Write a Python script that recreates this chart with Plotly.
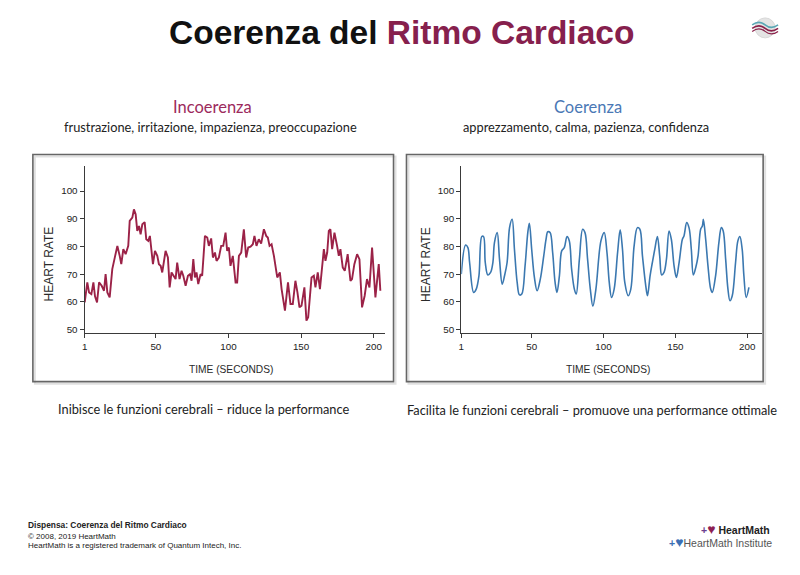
import plotly.graph_objects as go

# ---------------- data ----------------
incoh_time = [1, 2.8, 4.0, 5.6, 7.0, 8.1, 9.5, 10.9, 12.7, 14.3, 15.4, 16.6, 18.2, 20.0, 21.9,
              23.5, 25.1, 26.2, 27.6, 29.2, 31.0, 32.0, 33.8, 34.9, 36.1, 37.2, 38.4, 39.5, 40.7,
              42.3, 43.4, 44.8, 45.9, 48.0, 49.4, 51.0, 52.1, 53.3, 54.4, 56.7, 58.3, 59.5, 60.8,
              62.5, 63.6, 64.7, 66.3, 67.7, 68.9, 70.5, 72.1, 73.5, 74.6, 75.8, 76.9, 78.0, 79.2,
              80.8, 81.9, 83.8, 85.4, 86.5, 88.1, 89.3, 90.7, 91.8, 93.4, 95.0, 96.4, 98.0, 99.1,
              100.3, 101.4, 103.0, 104.9, 106.0, 107.2, 108.8, 110.6, 112.2, 113.6, 115.2, 116.8,
              117.9, 119.3, 120.9, 122.5, 124.4, 126.0, 127.1, 128.3, 129.7, 131.3, 133.6, 135.4,
              136.6, 138.9, 141.0, 142.7, 144.3, 146.1, 147.5, 148.9, 150.3, 152.3, 153.7, 154.9,
              157.2, 158.8, 159.9, 161.5, 163.0, 164.6, 165.7, 166.8, 168.0, 169.1, 170.2, 171.4,
              173.0, 174.8, 176.0, 177.1, 178.7, 180.1, 182.1, 184.0, 185.1, 186.7, 188.6, 190.2,
              192.0, 193.8, 195.4, 197.1, 198.9, 201.2, 203.5, 204.6]
incoh_hr = [59.8, 67.0, 63.4, 62.8, 67.0, 62.0, 59.8, 67.0, 65.8, 64.0, 70.0, 63.4, 61.6, 71.8, 76.4,
            80.2, 76.6, 73.6, 79.0, 77.2, 80.2, 89.2, 90.4, 93.4, 91.6, 85.6, 87.4, 84.4, 88.0,
            88.8, 82.6, 82.0, 83.8, 73.6, 78.4, 76.6, 73.6, 73.0, 70.6, 78.4, 76.0, 65.2, 70.6,
            68.8, 68.2, 74.2, 68.2, 71.2, 69.4, 65.8, 69.4, 70.0, 67.6, 75.4, 68.8, 70.6, 66.4,
            70.0, 69.4, 83.8, 83.2, 80.2, 82.9, 76.0, 77.8, 74.8, 76.0, 80.2, 80.2, 85.0, 78.4,
            79.6, 73.0, 76.6, 67.0, 67.0, 76.6, 77.8, 86.2, 76.0, 79.6, 79.9, 80.8,
            83.8, 80.2, 82.6, 81.0, 86.2, 83.8, 83.2, 80.2, 80.8, 76.6, 68.8, 70.6,
            64.6, 56.8, 67.0, 59.2, 59.2, 67.6, 63.4, 58.0, 58.6, 65.2, 53.2, 54.4,
            68.8, 69.4, 65.2, 70.6, 64.6, 72.4, 79.0, 74.8, 77.8, 85.6, 86.2, 79.0,
            85.0, 80.2, 76.6, 79.0, 72.4, 71.2, 77.2, 67.6, 68.2, 73.6, 77.2, 75.4,
            58.0, 62.2, 68.2, 65.2, 79.6, 61.6, 73.6, 64.0]

coh_time = [1, 4.0, 5.6, 6.8, 9.6, 11.4, 13.3, 15.3, 16.5, 17.7, 19.5, 21.4, 23.0, 24.1, 26.0,
            27.6, 29.5, 31.1, 32.9, 34.6, 36.4, 38.0, 39.9, 41.5, 43.1, 45.4, 47.3, 48.4, 50.0,
            51.9, 53.8, 56.0, 58.4, 60.0, 61.2, 62.8, 64.6, 66.3, 67.6, 69.3, 70.9, 72.7, 74.6,
            76.2, 77.8, 79.7, 81.0, 83.2, 85.5, 87.1, 88.9, 90.8, 92.6, 94.7, 98.2, 100.5, 102.4,
            104.0, 105.6, 107.4, 109.8, 111.6, 113.2, 114.8, 117.2, 119.0, 121.3, 123.6, 125.3,
            127.1, 129.4, 130.6, 132.4, 134.0, 135.7, 137.5, 139.1, 140.5, 142.1, 143.8, 145.6,
            147.2, 149.1, 150.7, 152.6, 154.9, 156.0, 157.9, 159.5, 161.1, 162.5, 164.2, 165.8,
            167.6, 168.8, 169.5, 171.1, 172.7, 174.6, 175.7, 178.0, 180.3, 182.0, 183.3, 185.0,
            186.6, 188.0, 189.6, 191.9, 193.5, 194.9, 196.5, 197.7, 199.3, 201.2]
coh_hr = [70.0, 80.5, 79.6, 74.2, 63.4, 64.6, 69.4, 83.6, 83.6, 74.2, 69.7, 70.6, 74.2, 81.4, 85.0,
          75.4, 66.4, 69.4, 74.2, 86.8, 89.8, 79.0, 67.0, 62.5, 62.8, 73.0, 85.0, 88.4, 79.0,
          68.8, 64.0, 68.2, 76.6, 82.6, 85.3, 85.0, 77.8, 67.0, 63.4, 69.4, 78.4, 79.6, 83.6,
          82.0, 71.8, 64.6, 62.8, 75.4, 86.2, 85.0, 75.4, 64.6, 58.4, 64.6, 82.0, 85.0, 77.8,
          67.0, 61.6, 64.6, 77.8, 86.0, 79.0, 67.0, 62.2, 64.6, 80.2, 86.8, 86.2,
          76.6, 65.8, 62.2, 69.4, 74.2, 79.0, 83.6, 76.6, 69.7, 70.6, 75.4, 85.6,
          82.6, 73.0, 68.8, 74.2, 82.6, 83.8, 88.6, 86.8, 79.0, 69.7, 72.4, 76.6,
          86.2, 87.4, 89.8, 82.6, 73.0, 64.6, 63.4, 69.4, 81.4, 86.8, 85.6, 75.4,
          64.6, 60.4, 62.2, 74.2, 82.0, 83.6, 79.0, 69.4, 61.6, 65.2]

x_ticks = [1, 50, 100, 150, 200]
y_ticks = [50, 60, 70, 80, 90, 100]

# ---------------- figure ----------------
W, H = 800, 575
def px(x): return x / W
def py(y): return 1 - y / H

MAROON = "#9b2247"
BLUE = "#3b78b0"
AXC = "#3a3a3a"
FONT = "Liberation Sans, Arial, sans-serif"
HFONT = "Lato, Open Sans, sans-serif"

fig = go.Figure()
fig.add_trace(go.Scatter(x=incoh_time, y=incoh_hr, mode="lines",
                         line=dict(color=MAROON, width=1.9), xaxis="x", yaxis="y",
                         showlegend=False, hoverinfo="x+y"))
fig.add_trace(go.Scatter(x=coh_time, y=coh_hr, mode="lines",
                         line=dict(color=BLUE, width=1.6, shape="spline", smoothing=1.0),
                         xaxis="x2", yaxis="y2", showlegend=False, hoverinfo="x+y"))

ydom = [py(334), py(167)]
axis_common = dict(showline=True, linecolor=AXC, linewidth=1.3, ticks="outside",
                   tickcolor=AXC, tickwidth=1.2, showgrid=False, zeroline=False,
                   tickfont=dict(family=FONT, size=9.8, color="#222"))

fig.update_layout(
    width=W, height=H, autosize=False,
    margin=dict(l=0, r=0, t=0, b=0),
    paper_bgcolor="white", plot_bgcolor="rgba(0,0,0,0)",
    xaxis=dict(domain=[px(82), px(383)], range=[1, 207.5], tickvals=x_ticks,
               ticklen=4, anchor="y", **axis_common),
    yaxis=dict(domain=ydom, range=[48.8, 108.9], tickvals=y_ticks, ticklen=4,
               anchor="x", **axis_common),
    xaxis2=dict(domain=[px(460), px(762)], range=[1, 210.4], tickvals=x_ticks,
                ticklen=4, anchor="y2", **axis_common),
    yaxis2=dict(domain=ydom, range=[48.8, 108.9], tickvals=y_ticks, ticklen=4,
                anchor="x2", **axis_common),
)

shapes = []
# frames with soft shadow
for (x0, x1) in [(30, 392), (405, 763)]:
    shapes.append(dict(type="rect", xref="paper", yref="paper",
                       x0=px(x0 + 2), x1=px(x1 + 2), y0=py(385), y1=py(157),
                       line=dict(color="rgba(0,0,0,0.12)", width=2), layer="below"))
    shapes.append(dict(type="rect", xref="paper", yref="paper",
                       x0=px(x0), x1=px(x1), y0=py(383), y1=py(155),
                       line=dict(color="#666666", width=1.6), layer="below"))

# small round logo top-right
shapes.append(dict(type="circle", xref="paper", yref="paper",
                   x0=px(755), x1=px(775), y0=py(38), y1=py(18),
                   fillcolor="#e4e4e4", line=dict(color="#d8d8d8", width=1)))
def wave(y, col, w):
    return dict(type="path", xref="paper", yref="paper",
                path=f"M {px(752)},{py(y)} Q {px(759)},{py(y-5)} {px(765)},{py(y)} T {px(778)},{py(y)}",
                line=dict(color=col, width=w))
shapes += [wave(25, "#5aa7b5", 1.6), wave(28.5, "#8a2049", 1.6), wave(31.5, "#8a2049", 1.2)]
fig.update_layout(shapes=shapes)

ann = []
def A(x, y, text, size, color="#222", family=FONT, xanchor="center", angle=0, yanchor="middle"):
    ann.append(dict(x=px(x), y=py(y), xref="paper", yref="paper", text=text,
                    showarrow=False, xanchor=xanchor, yanchor=yanchor, textangle=angle,
                    font=dict(size=size, color=color, family=family)))

A(400, 33, "<b>Coerenza del <span style='color:#86204d'>Ritmo Cardiaco</span></b>", 33.5, "#111")

A(210, 107, "Incoerenza", 16.5, "#9c2a5c", HFONT)
A(208, 127, "frustrazione, irritazione, impazienza, preoccupazione", 12.8, "#222", HFONT)
A(587, 107, "Coerenza", 16.5, "#4a78b5", HFONT)
A(585, 127, "apprezzamento, calma, pazienza, confidenza", 12.8, "#222", HFONT)

A(46.5, 265, "HEART RATE", 12, "#2a2a2a", angle=-90)
A(229, 371, "TIME (SECONDS)", 10.2, "#2a2a2a")
A(424.5, 265, "HEART RATE", 12, "#2a2a2a", angle=-90)
A(607, 371, "TIME (SECONDS)", 10.2, "#2a2a2a")

A(201, 410, "Inibisce le funzioni cerebrali – riduce la performance", 12.8, "#222", HFONT)
A(591, 411, "Facilita le funzioni cerebrali – promuove una performance ottimale", 12.8, "#222", HFONT)

A(23, 527, "<b>Dispensa: Coerenza del Ritmo Cardiaco</b>", 8.4, "#222", xanchor="left")
A(23, 538, "© 2008, 2019 HeartMath", 8, "#222", xanchor="left")
A(23, 547.5, "HeartMath is a registered trademark of Quantum Intech, Inc.", 8, "#222", xanchor="left")

A(772, 531, "<span style='color:#6b3f8f'><b>+</b></span><span style='color:#8e1f54;font-size:14px'>♥</span> <b>HeartMath</b>",
  10.5, "#222", xanchor="right")
A(774, 544, "<span style='color:#3b6fb5'><b>+</b></span><span style='color:#3b6fb5;font-size:14px'>♥</span>HeartMath Institute",
  10.5, "#555", xanchor="right")

fig.update_layout(annotations=ann)
fig.write_html("out.html", config={"displayModeBar": False},
               post_script="document.body.style.margin='0';document.body.style.overflow='hidden';")
